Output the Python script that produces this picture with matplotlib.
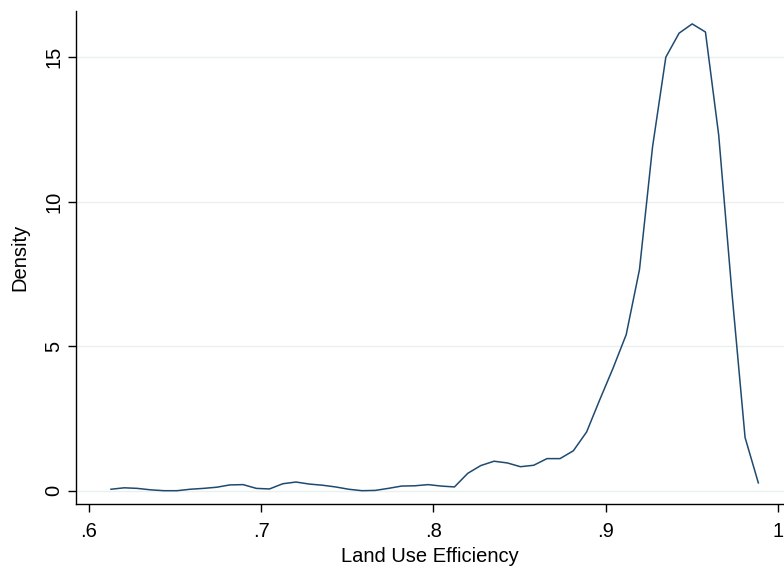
import matplotlib
matplotlib.use("Agg")
import matplotlib.pyplot as plt

# kernel density values (50 points)
efficiency = [0.6128, 0.6205, 0.6281, 0.6358, 0.6435, 0.6511, 0.6588, 0.6665, 0.6742, 0.6818,
              0.6895, 0.6972, 0.7048, 0.7125, 0.7202, 0.7278, 0.7355, 0.7432, 0.7508, 0.7585,
              0.7662, 0.7738, 0.7815, 0.7892, 0.7969, 0.8045, 0.8122, 0.8199, 0.8275, 0.8352,
              0.8429, 0.8505, 0.8582, 0.8659, 0.8735, 0.8812, 0.8889, 0.8965, 0.9042, 0.9119,
              0.9196, 0.9272, 0.9349, 0.9426, 0.9502, 0.9579, 0.9656, 0.9732, 0.9809, 0.9886]
density = [0.05, 0.10, 0.08, 0.03, 0.00, 0.00, 0.05, 0.08, 0.12, 0.20,
           0.21, 0.08, 0.06, 0.24, 0.30, 0.23, 0.19, 0.13, 0.05, 0.00,
           0.01, 0.08, 0.16, 0.17, 0.21, 0.16, 0.13, 0.60, 0.87, 1.02,
           0.96, 0.83, 0.88, 1.11, 1.11, 1.38, 2.03, 3.14, 4.23, 5.40,
           7.65, 11.9, 15.0, 15.83, 16.15, 15.87, 12.3, 6.9, 1.84, 0.27]

xticks = [0.6, 0.7, 0.8, 0.9, 1.0]
xticklabels = [".6", ".7", ".8", ".9", "1"]
yticks = [0, 5, 10, 15]

plt.rcParams['font.family'] = ['Liberation Sans', 'DejaVu Sans']

fig = plt.figure(figsize=(7.84, 5.69), dpi=100)
ax = fig.add_axes([76 / 784, 1 - 503.5 / 569, 1 - 76 / 784, (503.5 - 10.9) / 569])

for yv in yticks:
    ax.axhline(yv, color='#e8f0f2', linewidth=1.0, zorder=0)

ax.plot(efficiency, density, color='#1f4a70', linewidth=1.1)

ax.set_xlim(0.5925, 1.0035)
ax.set_ylim(-0.443, 16.60)
ax.set_xticks(xticks)
ax.set_xticklabels(xticklabels)
ax.set_yticks(yticks)
ax.tick_params(axis='both', labelsize=14.5, length=6, width=1.0, colors='black')
ax.tick_params(axis='x', pad=7)
ax.tick_params(axis='y', pad=3)
plt.setp(ax.get_yticklabels(), rotation=90, va='center')

ax.spines['top'].set_visible(False)
ax.spines['right'].set_visible(False)
ax.spines['left'].set_linewidth(1.0)
ax.spines['bottom'].set_linewidth(1.0)

ax.set_xlabel("Land Use Efficiency", fontsize=14.5, labelpad=5)
ax.set_ylabel("Density", fontsize=14.5, labelpad=11)

fig.savefig("out.png", dpi=100)
